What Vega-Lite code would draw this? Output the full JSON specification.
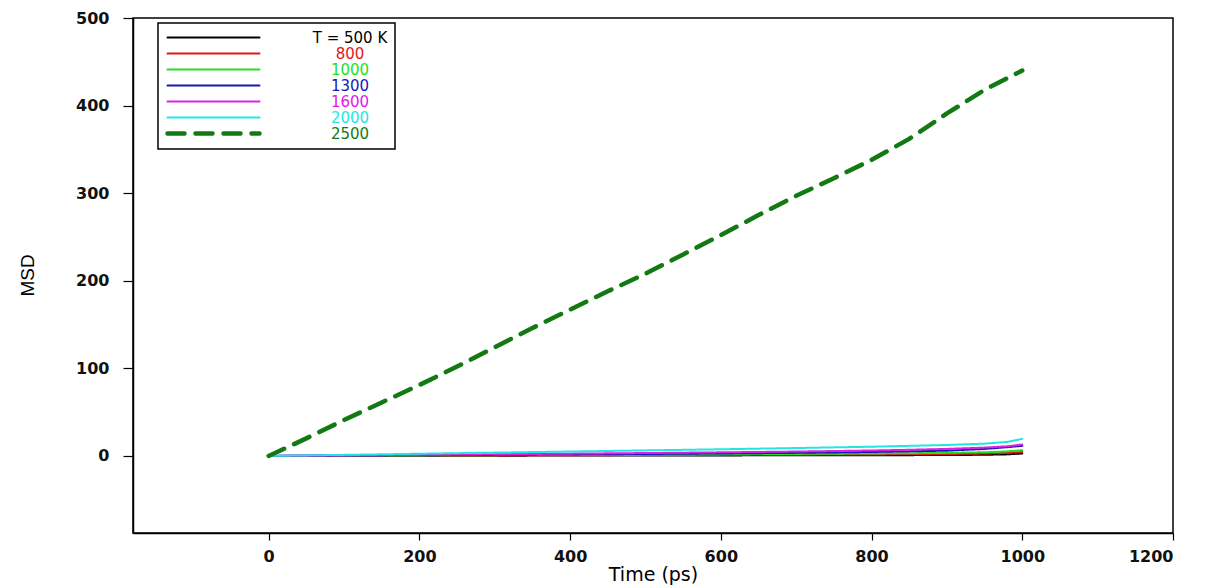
{
  "$schema": "https://vega.github.io/schema/vega-lite/v6.json",
  "autosize": {"type": "none"},
  "width": 1040,
  "height": 515,
  "padding": {"left": 133, "top": 18, "right": 32, "bottom": 54},
  "background": "white",
  "config": {
    "view": {"stroke": "black", "strokeWidth": 1.5},
    "axis": {"grid": false, "domainColor": "black", "domainWidth": 1.5, "tickColor": "black", "tickWidth": 1.2, "labelColor": "#111111", "titleColor": "black", "labelFont": "DejaVu Sans", "labelFontWeight": "bold", "labelFontSize": 16, "titleFont": "DejaVu Sans", "titleFontWeight": "normal"}
  },
  "data": {"values": [
    {"t": 0, "T": "500", "msd": 0}, {"t": 100, "T": "500", "msd": 0.1}, {"t": 200, "T": "500", "msd": 0.2}, {"t": 300, "T": "500", "msd": 0.3}, {"t": 400, "T": "500", "msd": 0.4}, {"t": 500, "T": "500", "msd": 0.5}, {"t": 600, "T": "500", "msd": 0.6}, {"t": 700, "T": "500", "msd": 0.7}, {"t": 800, "T": "500", "msd": 0.8}, {"t": 850, "T": "500", "msd": 0.9}, {"t": 900, "T": "500", "msd": 1.0}, {"t": 950, "T": "500", "msd": 1.3}, {"t": 980, "T": "500", "msd": 1.8}, {"t": 1000, "T": "500", "msd": 2.8},
    {"t": 0, "T": "800", "msd": 0}, {"t": 100, "T": "800", "msd": 0.2}, {"t": 200, "T": "800", "msd": 0.4}, {"t": 300, "T": "800", "msd": 0.6}, {"t": 400, "T": "800", "msd": 0.8}, {"t": 500, "T": "800", "msd": 1.0}, {"t": 600, "T": "800", "msd": 1.2}, {"t": 700, "T": "800", "msd": 1.4}, {"t": 800, "T": "800", "msd": 1.7}, {"t": 850, "T": "800", "msd": 1.9}, {"t": 900, "T": "800", "msd": 2.2}, {"t": 950, "T": "800", "msd": 2.7}, {"t": 980, "T": "800", "msd": 3.4}, {"t": 1000, "T": "800", "msd": 4.5},
    {"t": 0, "T": "1000", "msd": 0}, {"t": 100, "T": "1000", "msd": 0.3}, {"t": 200, "T": "1000", "msd": 0.6}, {"t": 300, "T": "1000", "msd": 0.9}, {"t": 400, "T": "1000", "msd": 1.2}, {"t": 500, "T": "1000", "msd": 1.5}, {"t": 600, "T": "1000", "msd": 1.9}, {"t": 700, "T": "1000", "msd": 2.3}, {"t": 800, "T": "1000", "msd": 2.8}, {"t": 850, "T": "1000", "msd": 3.1}, {"t": 900, "T": "1000", "msd": 3.5}, {"t": 950, "T": "1000", "msd": 4.2}, {"t": 980, "T": "1000", "msd": 5.2}, {"t": 1000, "T": "1000", "msd": 6.5},
    {"t": 0, "T": "1300", "msd": 0}, {"t": 100, "T": "1300", "msd": 0.4}, {"t": 200, "T": "1300", "msd": 0.8}, {"t": 300, "T": "1300", "msd": 1.2}, {"t": 400, "T": "1300", "msd": 1.7}, {"t": 500, "T": "1300", "msd": 2.2}, {"t": 600, "T": "1300", "msd": 2.8}, {"t": 700, "T": "1300", "msd": 3.5}, {"t": 800, "T": "1300", "msd": 4.5}, {"t": 850, "T": "1300", "msd": 5.2}, {"t": 900, "T": "1300", "msd": 6.0}, {"t": 950, "T": "1300", "msd": 8.0}, {"t": 980, "T": "1300", "msd": 10.0}, {"t": 1000, "T": "1300", "msd": 11.5},
    {"t": 0, "T": "1600", "msd": 0}, {"t": 100, "T": "1600", "msd": 0.6}, {"t": 200, "T": "1600", "msd": 1.2}, {"t": 300, "T": "1600", "msd": 1.9}, {"t": 400, "T": "1600", "msd": 2.6}, {"t": 500, "T": "1600", "msd": 3.3}, {"t": 600, "T": "1600", "msd": 4.1}, {"t": 700, "T": "1600", "msd": 5.0}, {"t": 800, "T": "1600", "msd": 6.2}, {"t": 850, "T": "1600", "msd": 7.0}, {"t": 900, "T": "1600", "msd": 8.0}, {"t": 950, "T": "1600", "msd": 9.5}, {"t": 980, "T": "1600", "msd": 11.0}, {"t": 1000, "T": "1600", "msd": 13.0},
    {"t": 0, "T": "2000", "msd": 0}, {"t": 100, "T": "2000", "msd": 1.2}, {"t": 200, "T": "2000", "msd": 2.5}, {"t": 300, "T": "2000", "msd": 3.8}, {"t": 400, "T": "2000", "msd": 5.0}, {"t": 500, "T": "2000", "msd": 6.3}, {"t": 600, "T": "2000", "msd": 7.6}, {"t": 700, "T": "2000", "msd": 9.0}, {"t": 800, "T": "2000", "msd": 10.5}, {"t": 850, "T": "2000", "msd": 11.5}, {"t": 900, "T": "2000", "msd": 12.5}, {"t": 950, "T": "2000", "msd": 14.0}, {"t": 980, "T": "2000", "msd": 16.0}, {"t": 1000, "T": "2000", "msd": 19.5},
    {"t": 0, "T": "2500", "msd": 0}, {"t": 50, "T": "2500", "msd": 20}, {"t": 100, "T": "2500", "msd": 41}, {"t": 150, "T": "2500", "msd": 61}, {"t": 200, "T": "2500", "msd": 81}, {"t": 250, "T": "2500", "msd": 102}, {"t": 300, "T": "2500", "msd": 124}, {"t": 350, "T": "2500", "msd": 146}, {"t": 400, "T": "2500", "msd": 167}, {"t": 450, "T": "2500", "msd": 188}, {"t": 500, "T": "2500", "msd": 208}, {"t": 550, "T": "2500", "msd": 230}, {"t": 600, "T": "2500", "msd": 252}, {"t": 650, "T": "2500", "msd": 275}, {"t": 700, "T": "2500", "msd": 297}, {"t": 750, "T": "2500", "msd": 317}, {"t": 800, "T": "2500", "msd": 338}, {"t": 850, "T": "2500", "msd": 362}, {"t": 900, "T": "2500", "msd": 391}, {"t": 950, "T": "2500", "msd": 418}, {"t": 1000, "T": "2500", "msd": 440}
  ]},
  "mark": {"type": "line", "strokeCap": "round", "strokeJoin": "round", "clip": true},
  "encoding": {
    "x": {"field": "t", "type": "quantitative", "scale": {"domain": [-180, 1200], "nice": false, "zero": false},
      "axis": {"values": [0, 200, 400, 600, 800, 1000, 1200], "format": "d", "tickSize": 7, "labelPadding": 8, "title": "Time (ps)", "titleFontSize": 19, "titlePadding": 1}},
    "y": {"field": "msd", "type": "quantitative", "scale": {"domain": [-88, 500], "nice": false, "zero": false},
      "axis": {"values": [0, 100, 200, 300, 400, 500], "format": "d", "tickSize": 10, "labelPadding": 14, "title": "MSD", "titleFont": "Liberation Sans", "titleFontSize": 19, "titleX": -106, "titleY": 257, "titleAlign": "center", "titleBaseline": "middle", "titleAngle": -90}},
    "color": {"field": "T", "type": "ordinal",
      "scale": {"domain": ["500", "800", "1000", "1300", "1600", "2000", "2500"], "range": ["#000000", "#e01818", "#22e022", "#1818b8", "#e020e0", "#22e6e6", "#137a13"]},
      "legend": {"orient": "none", "legendX": 25, "legendY": 5, "title": null, "symbolType": "stroke", "symbolSize": 8464, "clipHeight": 15, "rowPadding": 0, "padding": 7, "symbolOffset": 0, "labelOffset": 88, "labelAlign": "center", "labelFont": "DejaVu Sans", "labelFontSize": 15, "strokeColor": "black",
        "labelExpr": "datum.value == '500' ? 'T = 500 K' : datum.label",
        "encode": {"labels": {"update": {"fill": {"scale": "color", "field": "value"}}}, "symbols": {"update": {"strokeCap": {"value": "round"}}}, "legend": {"update": {"strokeWidth": {"value": 1.5}, "fill": {"value": "white"}}}}}},
    "strokeDash": {"field": "T", "type": "ordinal",
      "scale": {"domain": ["500", "800", "1000", "1300", "1600", "2000", "2500"], "range": [[1, 0], [1, 0], [1, 0], [1, 0], [1, 0], [1, 0], [17, 11]]}},
    "strokeWidth": {"field": "T", "type": "ordinal",
      "scale": {"type": "ordinal", "domain": ["500", "800", "1000", "1300", "1600", "2000", "2500"], "range": [2, 2, 2, 2, 2, 2, 4.5]}},
    "order": {"field": "t", "type": "quantitative"}
  }
}
